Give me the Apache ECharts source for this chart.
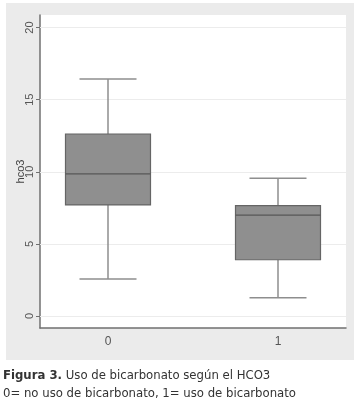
<!DOCTYPE html>
<html>
<head>
<meta charset="utf-8">
<script src="https://cdn.jsdelivr.net/npm/echarts@6/dist/echarts.min.js"></script>
<style>
  html, body { margin: 0; padding: 0; background: #fff; }
  #chart { width: 358px; height: 412px; }
</style>
</head>
<body>
<div id="chart"></div>
<script>
// grupos (0 = no uso de bicarbonato, 1 = uso de bicarbonato)
var groups = [0, 1]
var lowWhisker = [2.57, 1.27]
var q1 = [7.7, 3.9]
var median = [9.85, 7.0]
var q3 = [12.62, 7.65]
var highWhisker = [16.43, 9.55]
var yTicks = [0, 5, 10, 15, 20]

var boxData = groups.map(function(g, i) {
  return [g, lowWhisker[i], q1[i], median[i], q3[i], highWhisker[i]]
})

var myChart = echarts.init(document.getElementById('chart'))

var option = {
  animation: false,
  graphic: [
    {
      type: 'rect',
      z: -10,
      shape: { x: 6, y: 3, width: 348, height: 357 },
      style: { fill: '#ebebeb' }
    },
    {
      type: 'text',
      left: 3,
      top: 367,
      style: {
        text: '{b|Figura 3.} Uso de bicarbonato según el HCO3\n0= no uso de bicarbonato, 1= uso de bicarbonato',
        fontFamily: 'DejaVu Sans Condensed, Liberation Sans Narrow, sans-serif',
        fontSize: 13,
        lineHeight: 18,
        fill: '#333',
        rich: {
          b: {
            fontFamily: 'DejaVu Sans Condensed, Liberation Sans Narrow, sans-serif',
            fontSize: 13,
            fontWeight: 'bold',
            fill: '#333'
          }
        }
      }
    }
  ],
  grid: {
    left: 40,
    top: 15,
    right: 12,
    bottom: 84,
    outerBoundsMode: 'none',
    show: true,
    backgroundColor: '#fff',
    borderWidth: 0
  },
  xAxis: {
    type: 'value',
    min: -0.4,
    max: 1.4,
    axisLine: { show: true, onZero: false, lineStyle: { color: '#707070', width: 1.5 } },
    axisTick: { show: false },
    splitLine: { show: false },
    axisLabel: {
      customValues: groups,
      color: '#555',
      fontSize: 12,
      fontFamily: 'Liberation Sans, sans-serif',
      margin: 8
    }
  },
  yAxis: {
    type: 'value',
    min: -0.83,
    max: 20.87,
    name: 'hco3',
    nameLocation: 'middle',
    nameGap: 14,
    nameRotate: 90,
    nameMoveOverlap: false,
    nameTextStyle: { color: '#444', fontSize: 11, fontFamily: 'Liberation Sans, sans-serif' },
    axisLine: { show: true, onZero: false, lineStyle: { color: '#707070', width: 1.5 } },
    axisTick: { show: true, customValues: yTicks, length: 4, lineStyle: { color: '#707070' } },
    splitLine: { show: false },
    axisLabel: {
      customValues: yTicks,
      rotate: 90,
      color: '#555',
      fontSize: 11,
      fontFamily: 'Liberation Sans, sans-serif',
      margin: 5
    }
  },
  series: [
    {
      type: 'custom',
      z: 10,
      data: boxData,
      renderItem: function(params, api) {
        var x = api.value(0)
        var boxW = 85
        var capW = 57
        var low = api.coord([x, api.value(1)])
        var pq1 = api.coord([x, api.value(2)])
        var pmed = api.coord([x, api.value(3)])
        var pq3 = api.coord([x, api.value(4)])
        var high = api.coord([x, api.value(5)])
        var cx = low[0]
        var whisker = { stroke: '#8e8e8e', lineWidth: 1.5 }
        return {
          type: 'group',
          children: [
            { type: 'line', shape: { x1: cx, y1: pq3[1], x2: cx, y2: high[1] }, style: whisker },
            { type: 'line', shape: { x1: cx, y1: pq1[1], x2: cx, y2: low[1] }, style: whisker },
            { type: 'line', shape: { x1: cx - capW / 2, y1: high[1], x2: cx + capW / 2, y2: high[1] }, style: whisker },
            { type: 'line', shape: { x1: cx - capW / 2, y1: low[1], x2: cx + capW / 2, y2: low[1] }, style: whisker },
            {
              type: 'rect',
              shape: { x: cx - boxW / 2, y: pq3[1], width: boxW, height: pq1[1] - pq3[1] },
              style: { fill: '#8f8f8f', stroke: '#656565', lineWidth: 1.2 }
            },
            {
              type: 'line',
              shape: { x1: cx - boxW / 2, y1: pmed[1], x2: cx + boxW / 2, y2: pmed[1] },
              style: { stroke: '#575757', lineWidth: 1.3 }
            }
          ]
        }
      },
      markLine: {
        silent: true,
        symbol: 'none',
        label: { show: false },
        lineStyle: { color: '#ececec', width: 1, type: 'solid' },
        data: yTicks.map(function(v) { return { yAxis: v } })
      }
    }
  ]
}

myChart.setOption(option)
</script>
</body>
</html>
